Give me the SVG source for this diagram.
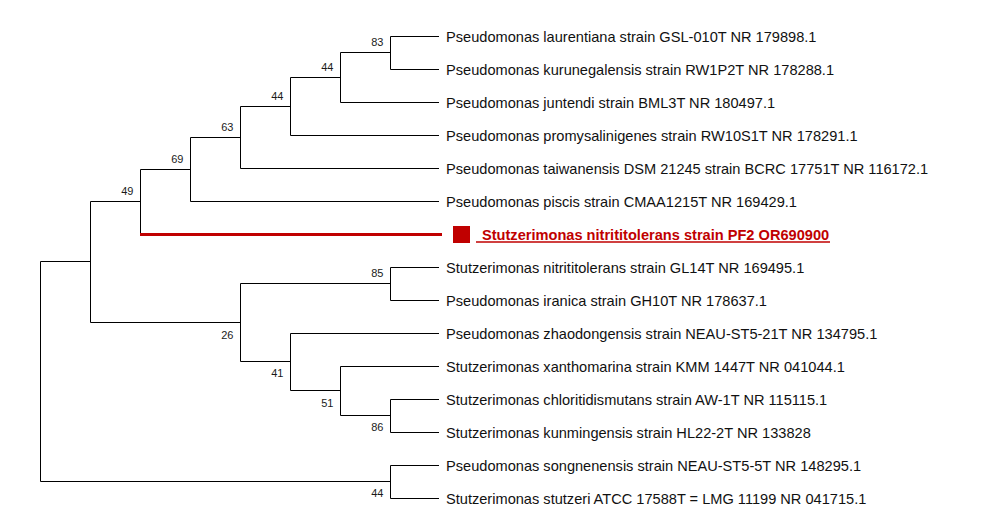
<svg xmlns="http://www.w3.org/2000/svg" width="992" height="512" viewBox="0 0 992 512">
<style>
.br{fill:none;stroke:#000;stroke-width:1}
.hl{fill:none;stroke:#c00000;stroke-width:3}
.leaf{font-family:"Liberation Sans",Arial,sans-serif;font-size:14.6px;fill:#111}
.bs{font-family:"Liberation Sans",Arial,sans-serif;font-size:11px;fill:#1a1a1a;text-anchor:end}
.red{font-family:"Liberation Sans",Arial,sans-serif;font-size:14.6px;font-weight:bold;fill:#c00000}
</style>
<rect width="992" height="512" fill="#fff"/>
<g id="connectors">
<path class="br" d="M390.5 36.5V69.5M390.5 36.5H439M390.5 69.5H439"/>
<path class="br" d="M340.5 52.5V102.5M340.5 52.5H390.5M340.5 102.5H439"/>
<path class="br" d="M290.5 77.5V135.5M290.5 77.5H340.5M290.5 135.5H439"/>
<path class="br" d="M240.5 106.5V168.5M240.5 106.5H290.5M240.5 168.5H439"/>
<path class="br" d="M190.5 137.5V201.5M190.5 137.5H240.5M190.5 201.5H439"/>
<path class="br" d="M140.5 169.5V234M140.5 169.5H190.5"/>
<path class="hl" d="M140 234.5H442"/>
<path class="br" d="M90.5 201.5V322.5M90.5 201.5H140.5M90.5 322.5H240.5"/>
<path class="br" d="M390.5 267.5V300.5M390.5 267.5H439M390.5 300.5H439"/>
<path class="br" d="M240.5 283.5V361.5M240.5 283.5H390.5M240.5 361.5H290.5"/>
<path class="br" d="M290.5 333.5V390.5M290.5 333.5H439M290.5 390.5H340.5"/>
<path class="br" d="M340.5 366.5V415.5M340.5 366.5H439M340.5 415.5H390.5"/>
<path class="br" d="M390.5 399.5V432.5M390.5 399.5H439M390.5 432.5H439"/>
<path class="br" d="M40.5 261.5V481.5M40.5 261.5H90.5M40.5 481.5H390.5"/>
<path class="br" d="M390.5 465.5V498.5M390.5 465.5H439M390.5 498.5H439"/>
</g>
<g id="n83"><text class="bs" x="383.5" y="46">83</text></g>
<g id="n44a"><text class="bs" x="333.5" y="71">44</text></g>
<g id="n44b"><text class="bs" x="283.5" y="100">44</text></g>
<g id="n63"><text class="bs" x="233.5" y="131">63</text></g>
<g id="n69"><text class="bs" x="183.5" y="163">69</text></g>
<g id="n49"><text class="bs" x="133.5" y="195">49</text></g>
<g id="n85"><text class="bs" x="383.5" y="277">85</text></g>
<g id="n26"><text class="bs" x="233.5" y="339">26</text></g>
<g id="n41"><text class="bs" x="283.5" y="377">41</text></g>
<g id="n51"><text class="bs" x="333.5" y="407">51</text></g>
<g id="n86"><text class="bs" x="383.5" y="431">86</text></g>
<g id="n44c"><text class="bs" x="383.5" y="497">44</text></g>
<g id="leaf1"><text class="leaf" x="446" y="41.5">Pseudomonas laurentiana strain GSL-010T NR 179898.1</text></g>
<g id="leaf2"><text class="leaf" x="446" y="74.5">Pseudomonas kurunegalensis strain RW1P2T NR 178288.1</text></g>
<g id="leaf3"><text class="leaf" x="446" y="107.5">Pseudomonas juntendi strain BML3T NR 180497.1</text></g>
<g id="leaf4"><text class="leaf" x="446" y="140.5">Pseudomonas promysalinigenes strain RW10S1T NR 178291.1</text></g>
<g id="leaf5"><text class="leaf" x="446" y="173.5">Pseudomonas taiwanensis DSM 21245 strain BCRC 17751T NR 116172.1</text></g>
<g id="leaf6"><text class="leaf" x="446" y="206.5">Pseudomonas piscis strain CMAA1215T NR 169429.1</text></g>
<g id="leaf7">
<rect x="453" y="226" width="17" height="17" fill="#c00000"/>
<text class="red" x="482" y="239.5">Stutzerimonas nitrititolerans strain PF2 OR690900</text>
<line x1="476" y1="242" x2="830" y2="242" stroke="#c00000" stroke-width="1.5"/>
</g>
<g id="leaf8"><text class="leaf" x="446" y="272.5">Stutzerimonas nitrititolerans strain GL14T NR 169495.1</text></g>
<g id="leaf9"><text class="leaf" x="446" y="305.5">Pseudomonas iranica strain GH10T NR 178637.1</text></g>
<g id="leaf10"><text class="leaf" x="446" y="338.5">Pseudomonas zhaodongensis strain NEAU-ST5-21T NR 134795.1</text></g>
<g id="leaf11"><text class="leaf" x="446" y="371.5">Stutzerimonas xanthomarina strain KMM 1447T NR 041044.1</text></g>
<g id="leaf12"><text class="leaf" x="446" y="404.5">Stutzerimonas chloritidismutans strain AW-1T NR 115115.1</text></g>
<g id="leaf13"><text class="leaf" x="446" y="437.5">Stutzerimonas kunmingensis strain HL22-2T NR 133828</text></g>
<g id="leaf14"><text class="leaf" x="446" y="470.5">Pseudomonas songnenensis strain NEAU-ST5-5T NR 148295.1</text></g>
<g id="leaf15"><text class="leaf" x="446" y="503.5">Stutzerimonas stutzeri ATCC 17588T = LMG 11199 NR 041715.1</text></g>
</svg>
